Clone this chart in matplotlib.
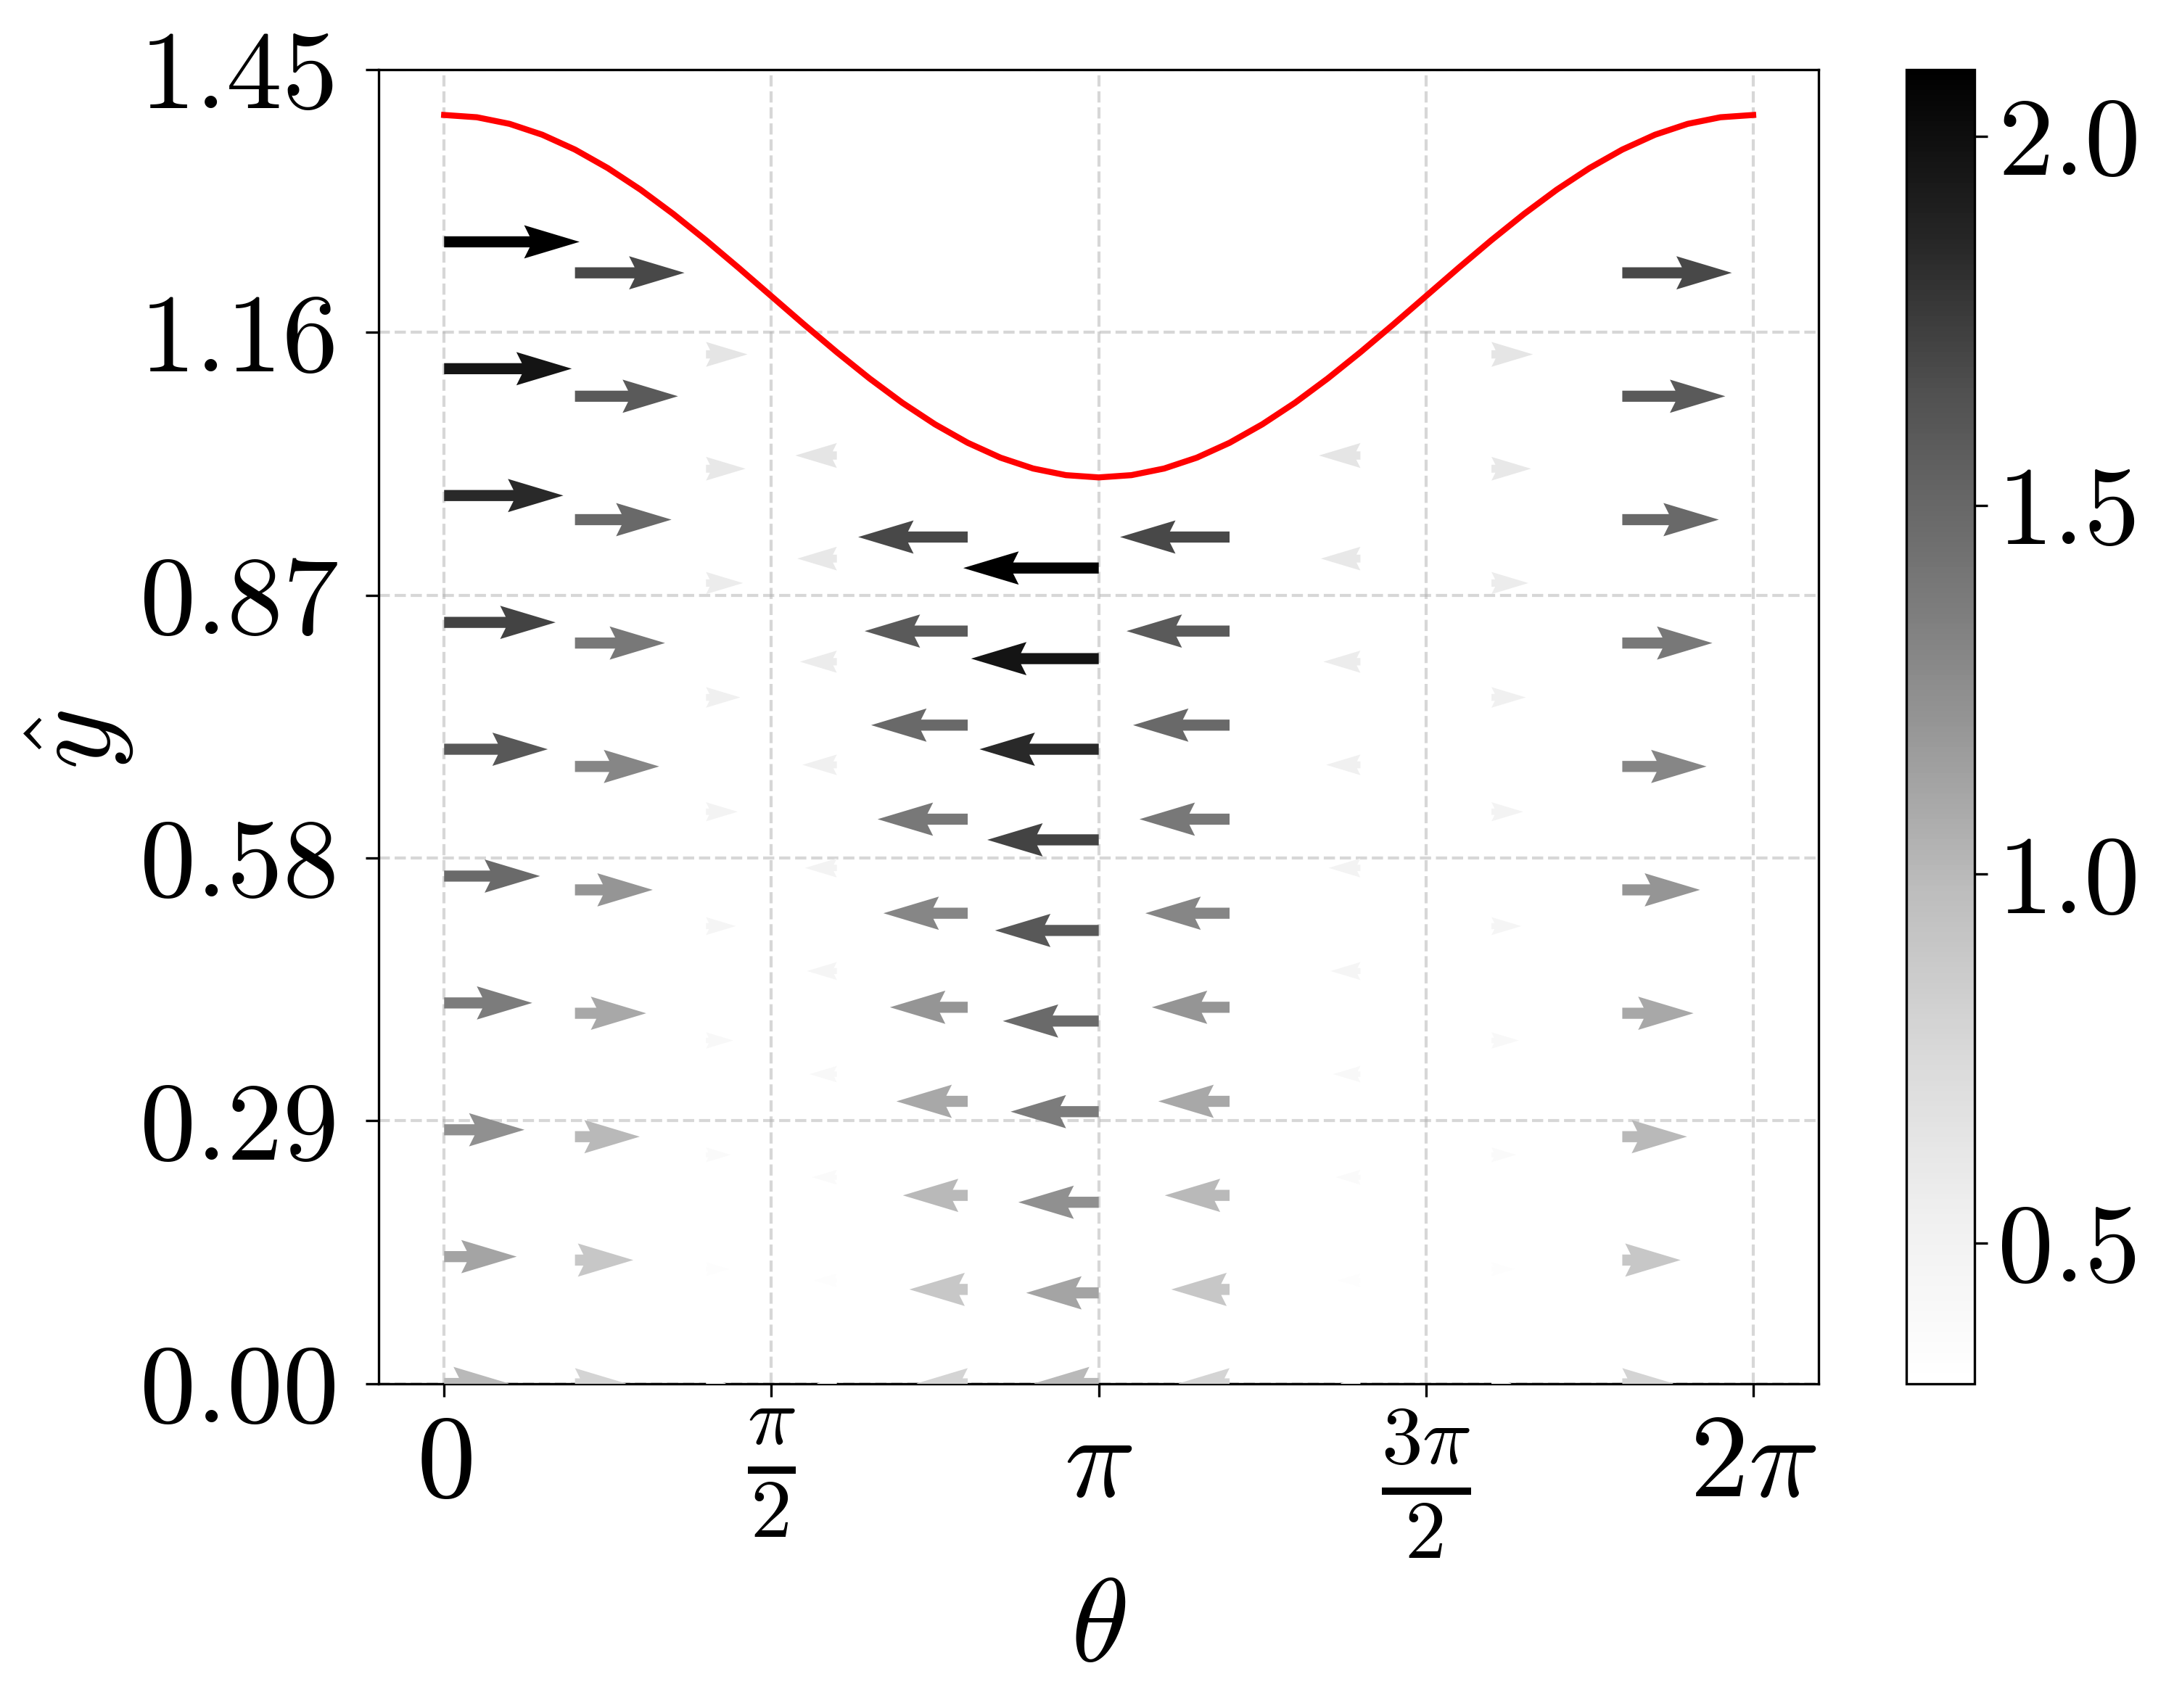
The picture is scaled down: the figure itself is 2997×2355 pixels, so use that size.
import numpy as np
import matplotlib
matplotlib.use("Agg")
import matplotlib.pyplot as plt

plt.rcParams["mathtext.fontset"] = "cm"
plt.rcParams["font.family"] = ["DejaVu Sans"]
plt.rcParams["axes.unicode_minus"] = False

FS = 37

# ---------------- data ----------------
# column positions (theta) of the arrow grid
theta_cols = [0.000, 0.628, 1.257, 1.885, 2.513, 3.142, 3.770, 4.398, 5.027, 5.655]
# upper wall height at each column (arrows are spread from 0 up to 0.9 of it)
wall_at_cols = [1.400, 1.362, 1.262, 1.138, 1.038, 1.000, 1.038, 1.138, 1.262, 1.362]
row_fraction = [0.0, 0.1, 0.2, 0.3, 0.4, 0.5, 0.6, 0.7, 0.8, 0.9]

# horizontal velocity per column (bottom row -> top row)
u_col0 = [1.00, 1.12, 1.24, 1.36, 1.48, 1.60, 1.72, 1.84, 1.97, 2.09]
u_col1 = [0.79, 0.90, 1.00, 1.10, 1.20, 1.30, 1.39, 1.49, 1.59, 1.69]
u_col2 = [0.31, 0.35, 0.38, 0.42, 0.46, 0.49, 0.53, 0.57, 0.61, 0.64]
u_col3 = [-0.31, -0.35, -0.38, -0.42, -0.46, -0.49, -0.53, -0.57, -0.61, -0.64]
u_col4 = [-0.79, -0.90, -1.00, -1.10, -1.20, -1.30, -1.39, -1.49, -1.59, -1.69]
u_col5 = [-1.00, -1.12, -1.24, -1.36, -1.48, -1.60, -1.72, -1.84, -1.97, -2.09]
u_col6 = [-0.79, -0.90, -1.00, -1.10, -1.20, -1.30, -1.39, -1.49, -1.59, -1.69]
u_col7 = [-0.31, -0.35, -0.38, -0.42, -0.46, -0.49, -0.53, -0.57, -0.61, -0.64]
u_col8 = [0.31, 0.35, 0.38, 0.42, 0.46, 0.49, 0.53, 0.57, 0.61, 0.64]
u_col9 = [0.79, 0.90, 1.00, 1.10, 1.20, 1.30, 1.39, 1.49, 1.59, 1.69]
u_columns = [u_col0, u_col1, u_col2, u_col3, u_col4,
             u_col5, u_col6, u_col7, u_col8, u_col9]

# red upper-wall curve
wall_theta = [0.0000, 0.1571, 0.3142, 0.4712, 0.6283, 0.7854, 0.9425, 1.0996,
              1.2566, 1.4137, 1.5708, 1.7279, 1.8850, 2.0420, 2.1991, 2.3562,
              2.5133, 2.6704, 2.8274, 2.9845, 3.1416, 3.2987, 3.4558, 3.6128,
              3.7699, 3.9270, 4.0841, 4.2412, 4.3982, 4.5553, 4.7124, 4.8695,
              5.0265, 5.1836, 5.3407, 5.4978, 5.6549, 5.8119, 5.9690, 6.1261,
              6.2832]
wall_height = [1.4000, 1.3975, 1.3902, 1.3782, 1.3618, 1.3414, 1.3176, 1.2908,
               1.2618, 1.2313, 1.2000, 1.1687, 1.1382, 1.1092, 1.0824, 1.0586,
               1.0382, 1.0218, 1.0098, 1.0025, 1.0000, 1.0025, 1.0098, 1.0218,
               1.0382, 1.0586, 1.0824, 1.1092, 1.1382, 1.1687, 1.2000, 1.2313,
               1.2618, 1.2908, 1.3176, 1.3414, 1.3618, 1.3782, 1.3902, 1.3975,
               1.4000]

x_ticks = [0.0, np.pi / 2, np.pi, 3 * np.pi / 2, 2 * np.pi]
x_ticklabels = [r"$0$", r"$\frac{\pi}{2}$", r"$\pi$", r"$\frac{3\pi}{2}$", r"$2\pi$"]
y_ticks = [0.00, 0.29, 0.58, 0.87, 1.16, 1.45]
y_ticklabels = ["0.00", "0.29", "0.58", "0.87", "1.16", "1.45"]
cb_ticks = [0.5, 1.0, 1.5, 2.0]
cb_ticklabels = ["0.5", "1.0", "1.5", "2.0"]

# ---------------- build arrays ----------------
X, Y, U, V = [], [], [], []
for th, hw, ucol in zip(theta_cols, wall_at_cols, u_columns):
    for fr, u in zip(row_fraction, ucol):
        X.append(th)
        Y.append(hw * fr)
        U.append(u)
        V.append(0.0)
X = np.array(X); Y = np.array(Y); U = np.array(U); V = np.array(V)
C = np.hypot(U, V)

# ---------------- figure ----------------
fig = plt.figure(figsize=(2997 / 300, 2355 / 300), dpi=300)
ax = fig.add_axes([0.1742, 0.190, 0.6623, 0.7692])
cax = fig.add_axes([0.8770, 0.190, 0.0312, 0.7692])

ax.grid(True, linestyle="--", color="#b0b0b0", alpha=0.5, linewidth=1.0, zorder=0)
ax.set_axisbelow(True)

q = ax.quiver(X, Y, U, V, C, cmap="Greys", pivot="tail", angles="xy",
              scale_units="x", scale=3.215, width=0.0077,
              headwidth=3, headlength=5, headaxislength=4.5, zorder=3)
ax.plot(wall_theta, wall_height, color="red", linewidth=2.0, zorder=4)

ax.set_xlim(-0.314, 6.597)
ax.set_ylim(0.0, 1.45)
ax.set_xticks(x_ticks)
ax.set_xticklabels(x_ticklabels)
ax.set_yticks(y_ticks)
ax.set_yticklabels(y_ticklabels, fontfamily="cmr10")
ax.tick_params(axis="both", labelsize=FS, length=4.3, width=0.8)
ax.tick_params(axis="x", labelsize=FS + 2)
ax.tick_params(axis="y", pad=9)
ax.set_xlabel(r"$\theta$", fontsize=FS + 2)
ax.set_ylabel(r"$\hat{y}$", fontsize=FS + 2)
ax.yaxis.set_label_coords(-0.169, 0.49)

cb = fig.colorbar(q, cax=cax)
cb.set_ticks(cb_ticks)
cb.set_ticklabels(cb_ticklabels, fontfamily="cmr10")
cax.tick_params(labelsize=FS, length=4.2, width=0.8)
cb.outline.set_linewidth(0.8)

fig.savefig("out.png", dpi=300)
